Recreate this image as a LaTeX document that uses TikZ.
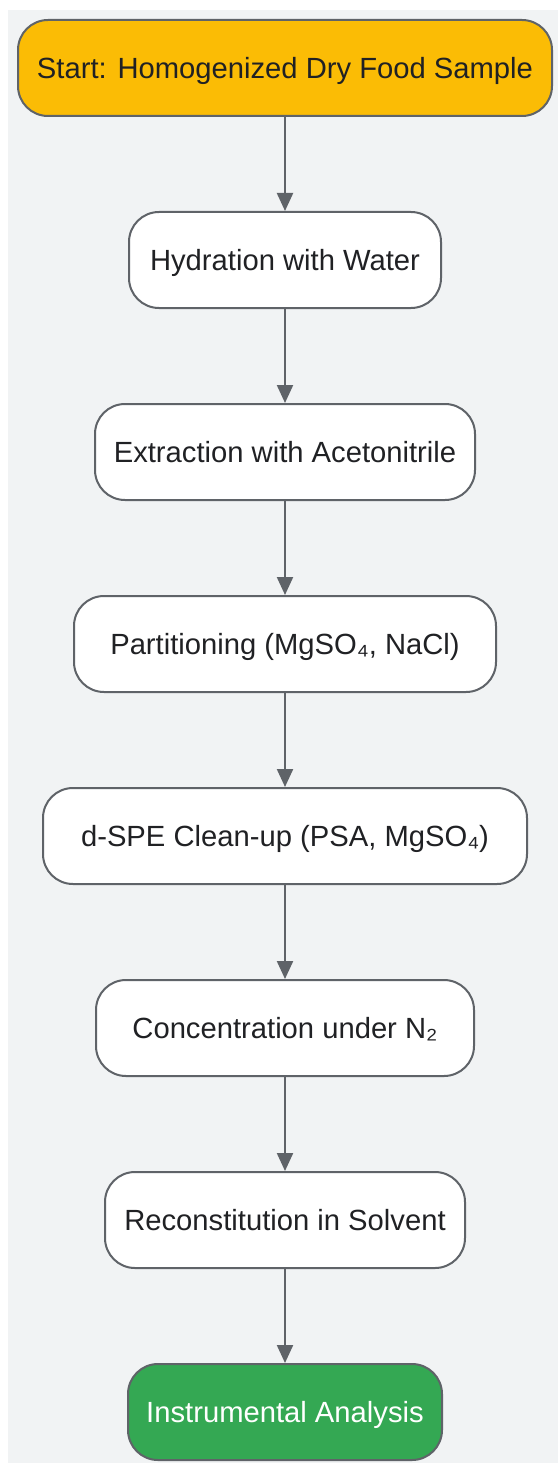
\documentclass[tikz,border=0pt]{standalone}
\usepackage{fontspec}
\setmainfont{Liberation Sans}
\usetikzlibrary{arrows.meta}
\definecolor{bgc}{HTML}{F1F3F4}
\definecolor{edgec}{HTML}{5F6368}
\definecolor{txtc}{HTML}{202124}
\definecolor{yel}{HTML}{FBBC05}
\definecolor{grn}{HTML}{34A853}
\tikzset{
  box/.style={draw=edgec, line width=2pt, rounded corners=30pt, fill=white,
    minimum height=96pt, inner sep=0pt, text=txtc, text depth=0pt,
    font=\fontsize{29.2}{35}\selectfont},
  flow/.style={draw=edgec, line width=2.2pt, -{Triangle[length=18pt,width=16pt]}}
}
\begin{document}
\begin{tikzpicture}[x=1pt,y=-1pt]
\useasboundingbox (0,0) rectangle (558,1463);
\fill[bgc] (8,10) rectangle (558,1463);
\node[box, fill=yel, minimum width=534pt] (n1) at (285,68) {Start: Homogenized Dry Food Sample};
\node[box, minimum width=312pt] (n2) at (285,260) {Hydration with Water};
\node[box, minimum width=380pt] (n3) at (285,452) {Extraction with Acetonitrile};
\node[box, minimum width=422pt] (n4) at (285,644) {Partitioning (MgSO₄, NaCl)};
\node[box, minimum width=484pt] (n5) at (285,836) {d-SPE Clean-up (PSA, MgSO₄)};
\node[box, minimum width=378pt] (n6) at (285,1028) {Concentration under N₂};
\node[box, minimum width=360pt] (n7) at (285,1220) {Reconstitution in Solvent};
\node[box, fill=grn, text=white, minimum width=314pt] (n8) at (285,1412) {Instrumental Analysis};
\draw[flow] (n1) -- (n2);
\draw[flow] (n2) -- (n3);
\draw[flow] (n3) -- (n4);
\draw[flow] (n4) -- (n5);
\draw[flow] (n5) -- (n6);
\draw[flow] (n6) -- (n7);
\draw[flow] (n7) -- (n8);
\end{tikzpicture}
\end{document}
